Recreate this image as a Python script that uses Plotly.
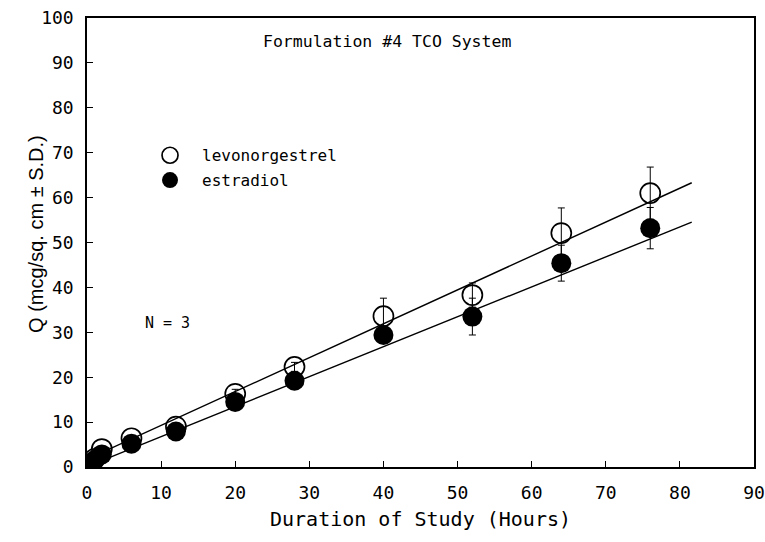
import plotly.graph_objects as go

# Sampling times (hours)
hours = [1, 2, 6, 12, 20, 28, 40, 52, 64, 76]

# Cumulative amount permeated, mcg/sq. cm (mean and S.D.)
levonorgestrel = [1.8, 4.0, 6.4, 9.0, 16.3, 22.3, 33.6, 38.3, 52.1, 61.0]
levonorgestrel_sd = [0.5, 0.5, 0.5, 0.6, 1.0, 1.0, 4.0, 2.7, 5.6, 5.8]
estradiol = [1.5, 2.8, 5.2, 7.9, 14.5, 19.2, 29.4, 33.5, 45.4, 53.2]
estradiol_sd = [0.4, 0.4, 0.5, 0.5, 0.6, 0.6, 0.8, 4.1, 4.0, 4.6]

# Linear fits (slope, intercept) and the span they are drawn over
levo_fit = [0.755, 1.7]
estr_fit = [0.667, 0.1]
fit_span = [1, 81.6]

x_ticks = [0, 10, 20, 30, 40, 50, 60, 70, 80, 90]
y_ticks = [0, 10, 20, 30, 40, 50, 60, 70, 80, 90, 100]

MONO = "DejaVu Sans Mono"

fig = go.Figure()

for slope, icpt in (levo_fit, estr_fit):
    fig.add_trace(go.Scatter(
        x=fit_span, y=[icpt + slope * t for t in fit_span],
        mode="lines", line=dict(color="black", width=1.4),
        showlegend=False, hoverinfo="skip"))

fig.add_trace(go.Scatter(
    x=hours, y=levonorgestrel, name="levonorgestrel", mode="markers",
    legendgroup="a",
    marker=dict(symbol="circle-open", size=20, color="black",
                line=dict(width=1.7, color="black")),
    error_y=dict(type="data", array=levonorgestrel_sd, color="black",
                 thickness=1, width=3.5)))

fig.add_trace(go.Scatter(
    x=hours, y=estradiol, name="estradiol", mode="markers",
    legendgroup="b",
    marker=dict(symbol="circle", size=20, color="black"),
    error_y=dict(type="data", array=estradiol_sd, color="black",
                 thickness=1, width=3.5)))

fig.add_annotation(x=40.5, y=94.7, text="Formulation #4 TCO System",
                   showarrow=False, font=dict(family=MONO, size=16.5, color="black"))
fig.add_annotation(x=10.8, y=32.1, text="N = 3",
                   showarrow=False, font=dict(family=MONO, size=15, color="black"))

# Y axis title placed as a rotated annotation
fig.add_annotation(xref="paper", yref="paper", x=-0.096, y=0.519,
                   text="Q (mcg/sq. cm \u00b1 S.D.)", textangle=-90,
                   showarrow=False,
                   font=dict(family="Liberation Sans", size=20, color="black"))

axis_common = dict(
    showline=True, linecolor="black", linewidth=1.5, mirror=True,
    ticks="inside", ticklen=6, tickwidth=1.2, tickcolor="black",
    showgrid=False, zeroline=False, automargin=False,
    tickfont=dict(family=MONO, size=18, color="black"),
)

fig.update_xaxes(range=[0, 90], tickvals=x_ticks,
                 ticklabelstandoff=9,
                 title=dict(text="Duration of Study (Hours)", standoff=10,
                            font=dict(family=MONO, size=20, color="black")),
                 **axis_common)
fig.update_yaxes(range=[0, 100], tickvals=y_ticks,
                 ticklabelstandoff=8,
                 **axis_common)

fig.update_layout(
    width=765, height=542,
    margin=dict(l=87, r=11, t=18, b=75),
    paper_bgcolor="white", plot_bgcolor="white",
    showlegend=True,
    legend=dict(x=0.0765, y=0.732, xanchor="left", yanchor="top",
                bgcolor="rgba(0,0,0,0)", tracegroupgap=1, itemwidth=54,
                font=dict(family=MONO, size=16, color="black")),
)

fig.write_html("out.html")
